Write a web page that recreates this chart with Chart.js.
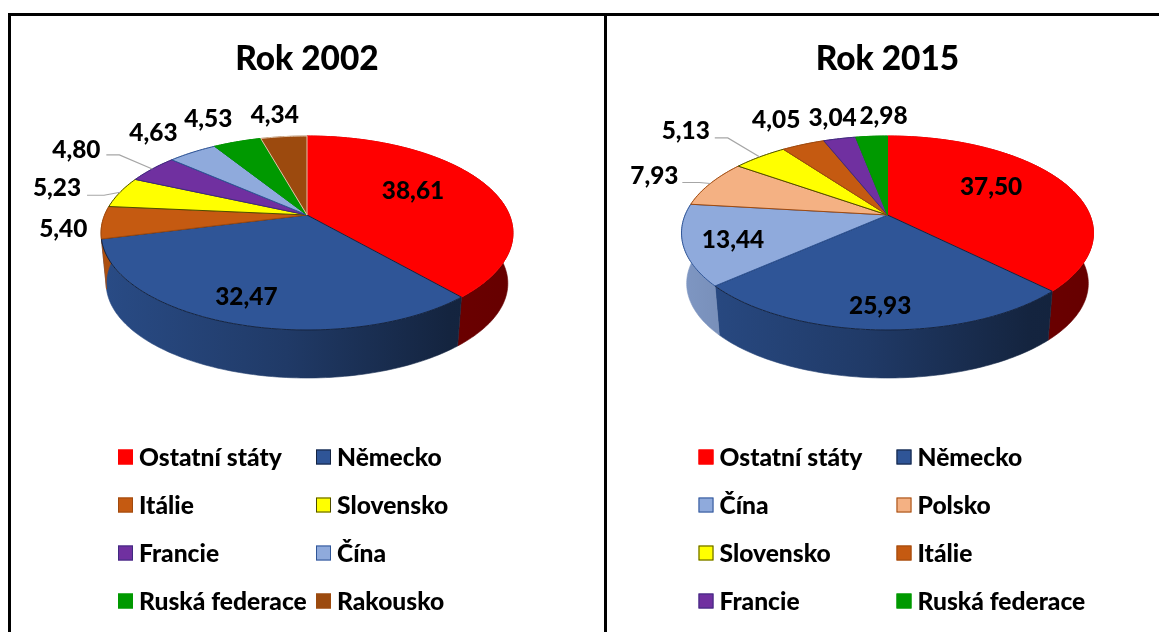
<!DOCTYPE html>
<html>
<head>
<meta charset="utf-8">
<title>Rok 2002 / Rok 2015</title>
<script src="https://cdn.jsdelivr.net/npm/chart.js@4"></script>
<style>
  html, body { margin: 0; padding: 0; background: #fff; overflow: hidden; width: 1159px; height: 632px; }
  .line { position: absolute; background: #000; }
  canvas { position: absolute; top: 16px; }
</style>
</head>
<body>
<div class="line" style="left:8px;top:13px;width:1151px;height:3px"></div>
<div class="line" style="left:8px;top:13px;width:3px;height:619px"></div>
<div class="line" style="left:604px;top:13px;width:3px;height:619px"></div>
<canvas id="pie2002" style="left:10px"></canvas>
<canvas id="pie2015" style="left:607px"></canvas>
<script>
// Data
const labels2002 = ['Ostatní státy', 'Německo', 'Itálie', 'Slovensko', 'Francie', 'Čína', 'Ruská federace', 'Rakousko'];
const values2002 = [38.61, 32.47, 5.40, 5.23, 4.80, 4.63, 4.53, 4.34];
const colors2002 = ['#ff0000', '#2f5597', '#c55a11', '#ffff00', '#7030a0', '#8faadc', '#009900', '#9c4a0e'];
const edges2002 = ['#ff0000', '#14233f', '#a04a0e', '#4d4d00', '#3f2a80', '#2f5597', '#009900', '#e0c4aa'];

const labels2015 = ['Ostatní státy', 'Německo', 'Čína', 'Polsko', 'Slovensko', 'Itálie', 'Francie', 'Ruská federace'];
const values2015 = [37.50, 25.93, 13.44, 7.93, 5.13, 4.05, 3.04, 2.98];
const colors2015 = ['#ff0000', '#2f5597', '#8faadc', '#f4b183', '#ffff00', '#c55a11', '#7030a0', '#009900'];
const edges2015 = ['#ff0000', '#14233f', '#2f5597', '#a04a0e', '#4d4d00', '#a04a0e', '#3f2a80', '#009900'];

// Value label nudges from the rim point of each slice, and the slices with a leader line
const nudges2002 = [[-72, 6], [13, -27], [-39, 6], [-63, -5], [-76, -20], [-39, -20], [-29, -24], [-9, -22]];
const leaders2002 = { 3: [30, 47, 8], 4: [30, 43, 6] };
const nudges2015 = [[-71, 5], [0, -25], [50, -6], [-56, -8], [-74, -27], [-27, -25], [-7, -22], [12, -21]];
const leaders2015 = { 3: [28, 45, 7], 4: [29, 42, 8] };

const FONT = 'Lato, sans-serif';
const tilt = 0.4627;      // ellipse height compared to the radius
const persp = 0.1856;     // near edge looks bigger than far edge
const baseScale = 0.975;  // bottom disc is a bit smaller
const depth = 50.9;

// Angle on the pie -> point on the tilted disc
function project(arc, angle, level) {
  const u = Math.cos(angle);
  const v = Math.sin(angle);
  const w = 1 - persp * v;
  const s = level ? baseScale : 1;
  return {
    x: arc.x + s * arc.outerRadius * u / w,
    y: arc.y + s * arc.outerRadius * tilt * v / w + (level ? depth : 0)
  };
}

function shade(hex, k) {
  const n = parseInt(hex.slice(1), 16);
  const r = Math.round((n >> 16 & 255) * k);
  const g = Math.round((n >> 8 & 255) * k);
  const b = Math.round((n & 255) * k);
  return `rgb(${r},${g},${b})`;
}

function arcPoints(arc, level) {
  const pts = [];
  const steps = Math.max(2, Math.ceil((arc.endAngle - arc.startAngle) / 0.02));
  for (let i = 0; i <= steps; i++) {
    pts.push(project(arc, arc.startAngle + (arc.endAngle - arc.startAngle) * i / steps, level));
  }
  return pts;
}

const tiltedPie = {
  id: 'tiltedPie',
  // replaces the flat drawing of the arcs, the angles still come from Chart.js
  beforeDatasetDraw(chart, args) {
    const ctx = chart.ctx;
    const arcs = args.meta.data;

    // side wall first
    arcs.forEach(el => {
      const arc = el.getProps(['x', 'y', 'startAngle', 'endAngle', 'outerRadius'], true);
      const top = arcPoints(arc, 0);
      const bottom = arcPoints(arc, 1).reverse();
      const color = el.options.backgroundColor;
      const grad = ctx.createLinearGradient(arc.x - arc.outerRadius, 0, arc.x + arc.outerRadius, 0);
      grad.addColorStop(0, shade(color, 0.88));
      grad.addColorStop(0.45, shade(color, 0.68));
      grad.addColorStop(0.85, shade(color, 0.42));
      grad.addColorStop(1, shade(color, 0.4));
      ctx.beginPath();
      top.concat(bottom).forEach((p, i) => i ? ctx.lineTo(p.x, p.y) : ctx.moveTo(p.x, p.y));
      ctx.closePath();
      ctx.fillStyle = grad;
      ctx.strokeStyle = grad;
      ctx.lineWidth = 0.6;
      ctx.fill();
      ctx.stroke();
    });

    // top face
    arcs.forEach(el => {
      const arc = el.getProps(['x', 'y', 'startAngle', 'endAngle', 'outerRadius'], true);
      ctx.beginPath();
      ctx.moveTo(arc.x, arc.y);
      arcPoints(arc, 0).forEach(p => ctx.lineTo(p.x, p.y));
      ctx.closePath();
      ctx.fillStyle = el.options.backgroundColor;
      ctx.strokeStyle = el.options.borderColor;
      ctx.lineWidth = 1;
      ctx.fill();
      ctx.stroke();
    });
    return false;
  },
  afterDraw(chart) {
    const ctx = chart.ctx;
    const cfg = chart.options.plugins.tiltedPie;
    const arcs = chart.getDatasetMeta(0).data;
    const values = chart.data.datasets[0].data;

    // value labels and leader lines
    ctx.font = `900 ${cfg.valueSize}px ${FONT}`;
    ctx.textAlign = 'center';
    ctx.textBaseline = 'middle';
    arcs.forEach((el, i) => {
      const arc = el.getProps(['x', 'y', 'startAngle', 'endAngle', 'outerRadius'], true);
      const rim = project(arc, (arc.startAngle + arc.endAngle) / 2, 0);
      const lx = rim.x + cfg.nudges[i][0];
      const ly = rim.y + cfg.nudges[i][1];
      const leader = cfg.leaders[i];
      if (leader) {
        ctx.beginPath();
        ctx.moveTo(lx + leader[0], ly + leader[2]);
        ctx.lineTo(lx + leader[1], ly + leader[2]);
        ctx.lineTo(rim.x, rim.y);
        ctx.strokeStyle = '#a6a6a6';
        ctx.lineWidth = 1.2;
        ctx.stroke();
      }
      ctx.fillStyle = '#000';
      ctx.fillText(values[i].toFixed(2).replace('.', ','), lx, ly + 1);
    });

    // legend, two columns and four rows
    const cx = arcs[0].x;
    ctx.font = `900 ${cfg.legendSize}px ${FONT}`;
    ctx.textAlign = 'left';
    chart.data.labels.forEach((label, i) => {
      const col = i % 2 ? cx + 9 : cx - 189;
      const row = 441 + 48 * Math.floor(i / 2);
      ctx.fillStyle = chart.data.datasets[0].backgroundColor[i];
      ctx.strokeStyle = chart.data.datasets[0].borderColor[i] === '#e0c4aa' ? '#9c4a0e' : chart.data.datasets[0].borderColor[i];
      ctx.lineWidth = 1;
      ctx.fillRect(col, row - 7.5, 15, 15);
      ctx.strokeRect(col + 0.5, row - 7, 14, 14);
      ctx.fillStyle = '#000';
      ctx.fillText(label, col + 21, row + 1);
    });
  }
};

function makePie(id, width, title, labels, values, colors, edges, nudges, leaders) {
  const canvas = document.getElementById(id);
  canvas.width = width;
  canvas.height = 616;
  return new Chart(canvas, {
    type: 'pie',
    data: {
      labels: labels,
      datasets: [{ data: values, backgroundColor: colors, borderColor: edges, borderWidth: 1 }]
    },
    options: {
      responsive: false,
      animation: false,
      radius: 202.4,
      layout: { padding: { bottom: 281.6 } },
      plugins: {
        legend: { display: false },
        tooltip: { enabled: false },
        title: {
          display: true,
          text: title,
          color: '#000',
          font: { family: FONT, size: 33.4, weight: '900', lineHeight: 1.2 },
          padding: { top: 23, bottom: 0.5 }
        },
        tiltedPie: { nudges: nudges, leaders: leaders, valueSize: 24.4, legendSize: 24.6 }
      }
    },
    plugins: [tiltedPie]
  });
}

makePie('pie2002', 594, 'Rok 2002', labels2002, values2002, colors2002, edges2002, nudges2002, leaders2002);
makePie('pie2015', 561, 'Rok 2015', labels2015, values2015, colors2015, edges2015, nudges2015, leaders2015);
</script>
</body>
</html>
